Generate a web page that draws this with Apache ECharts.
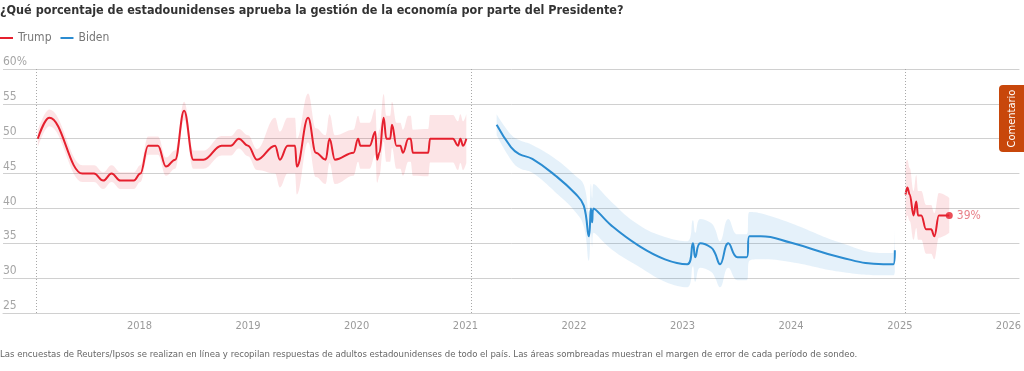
<!DOCTYPE html>
<html><head><meta charset="utf-8">
<script src="https://cdn.jsdelivr.net/npm/echarts@6/dist/echarts.min.js"></script>
<style>html,body{margin:0;padding:0;background:#fff}#c{width:1024px;height:371px}</style>
</head><body><div id="c"></div>
<script>
// ---- data ----
const trump1Dates = ['2017-01-24','2017-03-04','2017-06-23','2017-08-01','2017-09-01','2017-09-29','2017-10-29','2017-12-13','2018-01-04','2018-01-30','2018-03-04','2018-03-31','2018-05-01','2018-05-31','2018-07-01','2018-08-04','2018-10-04','2018-11-04','2018-12-01','2019-01-01','2019-01-31','2019-04-02','2019-04-18','2019-05-14','2019-06-08','2019-06-14','2019-07-22','2019-08-17','2019-09-19','2019-10-02','2019-10-20','2019-12-22','2020-01-06','2020-01-14','2020-02-14','2020-03-04','2020-03-10','2020-03-18','2020-04-01','2020-04-10','2020-04-23','2020-04-29','2020-05-14','2020-05-27','2020-06-05','2020-06-23','2020-07-01','2020-07-08','2020-08-29','2020-09-04','2020-11-20','2020-12-07','2020-12-15','2020-12-24','2021-01-04'];
const trump1Values = [50,53,45,45,44,45,44,44,45,49,49,46,47,54,47,47,49,49,50,49,47,49,47,49,49,46,53,48,47,50,47,48,50,49,49,51,47,48,53,50,50,52,49,49,48,50,50,48,48,50,50,49,50,49,50];
const trump1Margin = [1.2,1.2,1.2,1.2,1.2,1.2,1.2,1.2,1.2,1.3,1.3,1.3,1.3,1.3,1.3,1.3,1.4,1.4,1.4,1.5,1.5,4,4,4,4,4,3.5,3.5,3.5,3.5,3.5,3.3,3.3,3.3,3.3,3.3,3.3,3.3,3.4,3.3,3.3,3.3,3.3,3.3,3.3,3.3,3.3,3.3,3.4,3.4,3.4,3.5,3.5,3.5,3.5];

const bidenDates = ['2021-04-16','2021-06-03','2021-07-01','2021-08-14','2021-10-31','2022-01-06','2022-02-03','2022-02-20','2022-02-27','2022-03-03','2022-03-08','2022-05-08','2022-08-05','2022-11-03','2023-01-17','2023-02-05','2023-02-13','2023-03-02','2023-04-07','2023-04-20','2023-05-07','2023-06-04','2023-07-05','2023-08-05','2023-08-14','2023-09-21','2023-12-30','2024-06-14','2024-11-06','2024-12-10','2024-12-15'];
const bidenValues = [52,48.8,47.8,47.1,44.7,42.1,40.4,36,40,38,40,37.5,34.7,32.7,32,35,33,35,34.4,33.6,32,35,33,33,36,36,35.1,33,32,32,34];
const bidenMargin = [1.5,1.8,2.0,2.0,2.4,2.6,3,3.5,3.5,3.5,3.5,3.4,3,3.2,3.3,3.3,3.5,3.5,3.5,3.5,3.3,3.5,3.3,3.3,3.5,3.3,2.8,2.1,1.6,1.6,3];

const trump2Dates = ['2025-01-20','2025-01-26','2025-02-03','2025-02-16','2025-02-25','2025-03-03','2025-03-14','2025-03-30','2025-04-16','2025-04-27','2025-05-12','2025-06-16'];
const trump2Values = [42,43,42,39,41,39,39,37,37,36,39,39];
const trump2Margin = [4.5,4,3.8,3.5,3.8,3.5,3.5,3.5,3.5,3.3,3.2,2.5];

const inaugurations = ['2017-01-20','2021-01-20','2025-01-20'];
const firstYearLabel = 2018;

const TITLE = '¿Qué porcentaje de estadounidenses aprueba la gestión de la economía por parte del Presidente?';
const NOTE = 'Las encuestas de Reuters/Ipsos se realizan en línea y recopilan respuestas de adultos estadounidenses de todo el país. Las áreas sombreadas muestran el margen de error de cada período de sondeo.';

// ---- styling ----
const FONT = '"DejaVu Sans Condensed","Noto Sans",sans-serif';
const RED = '#e5202e', BLUE = '#2b8cd1';
const RED_BAND = 'rgba(232,32,47,0.12)', BLUE_BAND = 'rgba(42,140,210,0.12)';
const YEAR_MS = 365 * 864e5;

function pairs(d, v) { return d.map((x, i) => [x, v[i]]); }
function smoothOpts(mono) { return mono ? { smooth: 0.4, smoothMonotone: 'x' } : { smooth: 0.45 }; }
function bandSeries(id, d, v, m, color, mono) {
  return [
    Object.assign({ name: id + '_lo', type: 'line', stack: id, data: d.map((x, i) => [x, v[i] - m[i]]),
      showSymbol: false, symbol: 'none', silent: true, lineStyle: { opacity: 0 }, z: 1 }, smoothOpts(mono)),
    Object.assign({ name: id + '_band', type: 'line', stack: id, data: d.map((x, i) => [x, 2 * m[i]]),
      showSymbol: false, symbol: 'none', silent: true,
      lineStyle: { opacity: 0 }, areaStyle: { color: color, opacity: 1 }, z: 1 }, smoothOpts(mono))
  ];
}
function lineSeries(name, d, v, color, mono, extra) {
  return Object.assign({ name: name, type: 'line', data: pairs(d, v),
    showSymbol: false, symbol: 'none', lineStyle: { color: color, width: 2 }, itemStyle: { color: color }, z: 3 },
    smoothOpts(mono), extra || {});
}

const series = [].concat(
  bandSeries('t1', trump1Dates, trump1Values, trump1Margin, RED_BAND, true),
  bandSeries('b', bidenDates, bidenValues, bidenMargin, BLUE_BAND, false),
  bandSeries('t2', trump2Dates, trump2Values, trump2Margin, RED_BAND, true),
  [
    lineSeries('Trump', trump1Dates, trump1Values, RED, true, {
      markLine: { silent: true, symbol: ['none', 'none'], label: { show: false },
        lineStyle: { type: [1, 2], color: '#a8a8a8', width: 1 },
        data: inaugurations.map(x => ({ xAxis: x })) }
    }),
    lineSeries('Biden', bidenDates, bidenValues, BLUE, false),
    lineSeries('Trump', trump2Dates, trump2Values, RED, true),
    { name: 'last', type: 'scatter', z: 4, symbolSize: 7, itemStyle: { color: RED },
      data: [[trump2Dates[trump2Dates.length - 1], trump2Values[trump2Values.length - 1]]],
      label: { show: true, position: 'right', distance: 4, color: '#e2606b', fontSize: 12, fontFamily: FONT,
        formatter: p => p.value[1] + '%' } }
  ]
);

const chart = echarts.init(document.getElementById('c'));
chart.setOption({
  animation: false,
  textStyle: { fontFamily: FONT },
  title: { text: TITLE, left: 0, top: 4, padding: 0,
    textStyle: { fontSize: 12.5, fontWeight: 'bold', color: '#333', fontFamily: FONT } },
  legend: { left: 0, top: 32, padding: 0, itemWidth: 13, itemHeight: 2, itemGap: 9,
    textStyle: { color: '#777', fontSize: 12, fontFamily: FONT },
    data: [{ name: 'Trump', icon: 'rect' }, { name: 'Biden', icon: 'rect' }] },
  grid: { left: 0, right: 0, top: 69, bottom: 58, containLabel: false },
  xAxis: { type: 'time', min: '2016-09-29', max: '2026-02-07',
    minInterval: YEAR_MS, maxInterval: YEAR_MS * 1.01,
    axisLine: { show: true, lineStyle: { color: '#d0d0d0' } },
    axisTick: { show: false }, splitLine: { show: false },
    axisLabel: { color: '#9a9a9a', fontSize: 11, margin: 8, fontFamily: FONT, hideOverlap: false,
      showMinLabel: false, showMaxLabel: false,
      formatter: v => { const y = new Date(v).getFullYear(); return y >= firstYearLabel ? String(y) : ''; } } },
  yAxis: { type: 'value', min: 25, max: 60, interval: 5,
    axisLine: { show: false }, axisTick: { show: false },
    splitLine: { lineStyle: { color: '#d0d0d0', width: 1 } },
    axisLabel: { inside: true, margin: 0, verticalAlign: 'bottom', padding: [0, 0, 1, 0],
      color: '#a5a5a5', fontSize: 12, fontFamily: FONT,
      formatter: v => v === 60 ? '60%' : String(v) } },
  graphic: [
    { type: 'text', left: 0, top: 350, silent: true, z: 100,
      style: { text: NOTE, fill: '#666', fontSize: 9.5, fontFamily: FONT } },
    { type: 'rect', shape: { x: 999, y: 85, width: 32, height: 67, r: 4 }, silent: true, z: 100,
      style: { fill: '#c8470b' } },
    { type: 'text', x: 1012, y: 118.5, rotation: Math.PI / 2, silent: true, z: 101,
      style: { text: 'Comentario', fill: '#fff', fontSize: 11, fontFamily: FONT, align: 'center', verticalAlign: 'middle' } }
  ],
  series: series
});
</script></body></html>
